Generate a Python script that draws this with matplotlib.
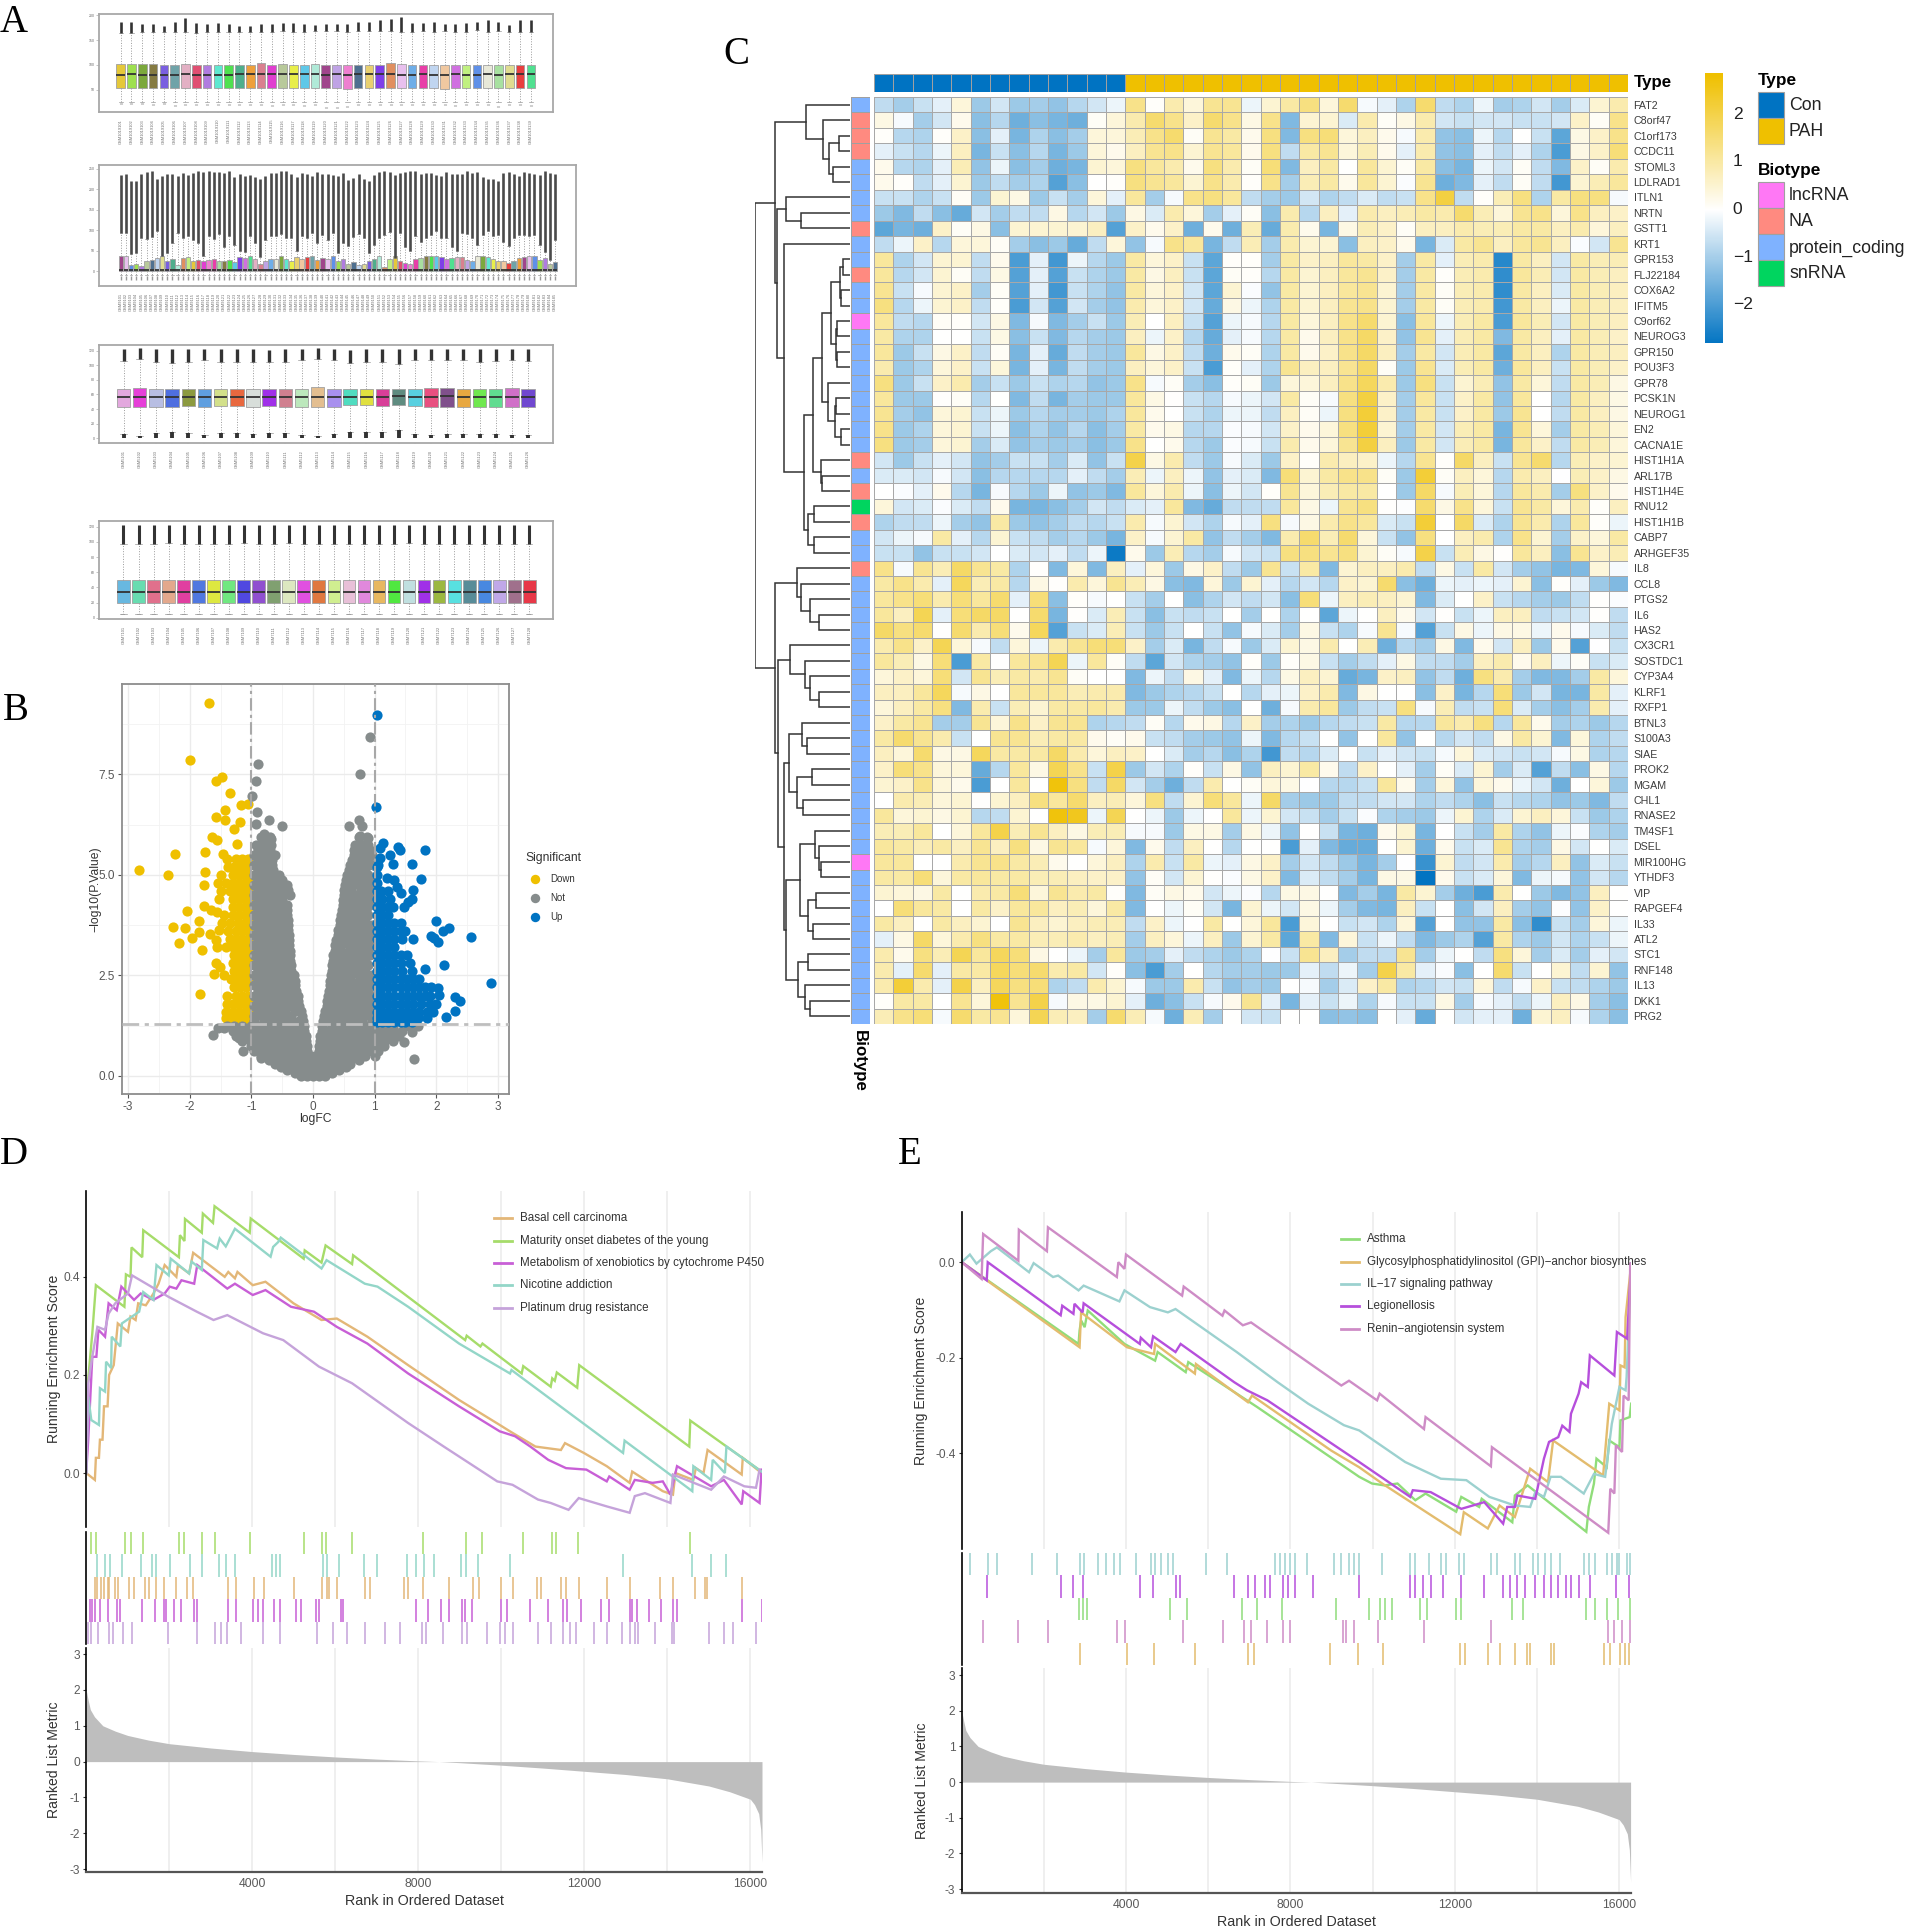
import numpy as np
import matplotlib
matplotlib.use('Agg')
import matplotlib.pyplot as plt
from matplotlib.colors import LinearSegmentedColormap, ListedColormap
from matplotlib.lines import Line2D
from matplotlib.patches import Rectangle

plt.rcParams['font.family'] = ['Liberation Sans', 'DejaVu Sans']
plt.rcParams['axes.unicode_minus'] = False

W, H = 1907, 1929

# ---- panel A, box plots
pool = ['#E5C83A', '#9EE04F', '#7BA83C', '#857B42', '#7A5FE0', '#6FA3A8', '#E3B0C4', '#E04F72', '#B07CE0', '#5FE8D0',
        '#4FE04F', '#4FAE8C', '#EEA03C', '#D9808F', '#E03FD0', '#B8C99A', '#E8EE4A', '#5FC8E8', '#B0EAD8', '#A0458C',
        '#BFA3E5', '#EE80D0', '#4F7090', '#E8D070', '#7F3FE8', '#E08F60', '#E8C0EE', '#6FAEE8', '#E83FA8', '#C0D5F0',
        '#F0C8A0', '#D070E0', '#C0F080', '#5F90E8', '#E8E8D8', '#A8E0A0', '#E0DC90', '#E83F3F', '#50E090']
a3_cols = ['#E3A8DE', '#E63FD8', '#B8BEE3', '#4F6FE0', '#8C9A3F', '#5F9FE0', '#D3E08A', '#E8683F', '#D8DEDA', '#A030E8',
           '#D0808F', '#BCE8BC', '#E3BE90', '#A890EE', '#50DCC0', '#E0E040', '#D83F98', '#5F8C80', '#58D0E0', '#E85080',
           '#80508C', '#E8A840', '#70E84F', '#60DC90', '#D070C8', '#7048D0']
a4_cols = ['#68B8E0', '#68DCB0', '#E0708C', '#E3A88C', '#E03FA0', '#5078E0', '#DDE840', '#70E880', '#5048E0', '#9050D0',
           '#80A070', '#DDE8C0', '#E050E0', '#E07840', '#D0EE90', '#E8C0D8', '#E088DC', '#E8B860', '#50E840', '#C0E0E0',
           '#A030E8', '#9CB840', '#58E0E0', '#588C98', '#4888E0', '#C0A8E8', '#A0708C', '#E83848']

a1_q1 = [54, 54, 54, 54, 54, 54, 53, 54, 54, 54, 54, 54, 54, 54, 53, 54, 54, 54, 54, 54, 54, 52, 53, 54, 54, 54, 54, 54, 54, 54, 52, 54, 54, 54, 54, 54, 54, 54, 54]
a1_med = [80, 81, 80, 80, 80, 80, 81, 80, 80, 79, 80, 81, 81, 82, 81, 82, 81, 81, 82, 80, 81, 80, 81, 82, 81, 82, 80, 80, 82, 80, 79, 81, 79, 80, 81, 79, 81, 81, 81]
a1_q3 = [101, 101, 101, 101, 100, 100, 101, 100, 100, 99, 100, 100, 100, 104, 100, 101, 100, 100, 101, 100, 100, 100, 100, 100, 100, 103, 101, 100, 100, 100, 100, 100, 99, 100, 100, 100, 100, 100, 100]
a1_whi = [165, 165, 167, 167, 166, 167, 167, 165, 167, 167, 167, 166, 167, 167, 167, 168, 167, 167, 168, 168, 168, 167, 168, 168, 168, 168, 167, 167, 168, 167, 168, 167, 167, 170, 167, 168, 167, 167, 167]
a1_top = [186, 186, 182, 182, 179, 186, 194, 184, 182, 184, 182, 179, 178, 182, 182, 184, 184, 182, 180, 182, 183, 182, 186, 186, 190, 193, 196, 184, 184, 186, 182, 183, 184, 186, 190, 186, 180, 190, 190]
a1_low = [21, 21, 21, 19, 21, 17, 19, 20, 19, 19, 19, 19.5, 19.5, 20, 18, 19.5, 19.5, 18, 19.5, 14, 13, 15, 19, 19, 19.5, 19, 20, 20, 20, 20, 19, 18, 19, 19.5, 19, 15, 19, 19, 17]

a2_q3 = [36, 36, 14, 18, 12, 26, 28, 32, 36, 26, 30, 14, 32, 34, 26, 28, 26, 28, 30, 24, 26, 28, 22, 34, 32, 36, 30, 18, 26, 30, 30, 38, 30, 26, 34, 30, 34, 38, 28, 32, 30, 36, 26, 30, 18, 22, 14, 18, 24, 30, 38, 10, 30, 36, 24, 20, 18, 30, 32, 38, 36, 36, 34, 30, 32, 34, 34, 28, 26, 36, 36, 34, 30, 24, 26, 20, 26, 32, 34, 36, 36, 28, 32, 18, 22]
a2_fbot = [94, 92, 42, 44, 80, 78, 84, 98, 36, 44, 70, 92, 80, 85, 75, 70, 36, 85, 78, 90, 60, 85, 65, 50, 48, 85, 70, 35, 75, 85, 85, 90, 80, 82, 50, 85, 80, 92, 70, 88, 75, 92, 45, 68, 62, 84, 90, 80, 44, 65, 80, 88, 95, 32, 92, 60, 50, 85, 72, 82, 88, 98, 82, 80, 60, 50, 92, 90, 82, 64, 88, 98, 85, 88, 72, 62, 80, 88, 88, 85, 88, 64, 48, 28, 75]
a2_ftop = [234, 237, 221, 219, 238, 242, 244, 224, 231, 236, 237, 231, 240, 234, 240, 245, 242, 245, 243, 243, 240, 245, 230, 238, 232, 235, 230, 225, 231, 240, 240, 245, 244, 236, 230, 240, 236, 233, 243, 238, 236, 235, 231, 240, 222, 228, 236, 226, 220, 234, 243, 244, 242, 235, 240, 242, 244, 245, 236, 240, 240, 235, 232, 241, 238, 236, 238, 244, 240, 241, 230, 224, 224, 219, 240, 243, 238, 232, 242, 240, 237, 235, 244, 240, 236]

a3_q1 = [43, 42.6, 43, 43, 44, 42.6, 44, 44, 43, 44, 43, 42.6, 42.6, 43, 45, 45, 44, 45, 44, 43, 43, 43, 43, 43, 42.6, 43]
a3_med = [57, 57, 57, 57, 57, 57, 57, 57, 57, 57, 57, 57, 57, 57, 57, 57, 57, 58, 57, 57, 58, 57, 57, 57, 57, 57]
a3_q3 = [68, 69.5, 68, 68, 68, 68, 68, 68, 68, 68, 68, 68, 70, 68, 68, 68, 68, 68, 68, 69.5, 69, 68, 68, 68, 69.5, 68]
a3_ftop = [122, 124, 122, 122, 123, 122, 122, 122, 122, 121, 123, 122, 124, 123, 121, 122, 122, 122, 122, 123, 123, 123, 123, 122, 122, 122]
a3_fbot = [106, 109, 105, 103, 105, 107, 105, 105, 105, 105, 104, 107, 109, 107, 103, 104, 104, 102, 107, 108, 107, 107, 105, 106, 108, 106]
a3_ltop = [5, 3.4, 6.7, 9, 6.7, 3.9, 6.7, 6.7, 5.6, 6.7, 6.7, 4.5, 3.4, 5, 9, 7.9, 7.9, 10.7, 5.6, 3.9, 5, 5, 5.6, 5.6, 3.9, 4.5]

# ---- panel B, volcano
not_rows = [
    (0.0, [-.2, -.1, 0, .1, .2]),
    (0.07, [-.3, -.2, -.1, 0, .1, .2, .3]),
    (0.15, [-.42, -.3, -.18, -.06, .06, .18, .3, .42]),
    (0.22, [-.52, -.4, -.28, -.16, -.04, .08, .2, .32, .44, .54]),
    (0.3, [-.62, -.5, -.38, -.26, -.14, -.02, .1, .22, .34, .46, .6]),
    (0.4, [-.72, -.6, -.48, -.36, -.24, -.12, -.03, .03, .12, .24, .36, .48, .6, .74]),
    (0.5, [-.85, -.72, -.6, -.48, -.36, -.24, -.12, -.04, .04, .12, .24, .36, .48, .6, .72, .85, 1.0]),
    (0.62, [-.95, -.82, -.7, -.58, -.46, -.34, -.22, -.1, .1, .22, .34, .46, .58, .7, .82, .95, 1.05]),
    (0.75, [-1, -.88, -.76, -.64, -.52, -.4, -.28, -.16, -.09, .09, .16, .28, .4, .52, .64, .76, .88, 1, 1.15]),
    (0.87, [-1.15, -1, -.88, -.76, -.64, -.52, -.4, -.28, -.16, -.11, .11, .16, .28, .4, .52, .64, .76, .88, 1, 1.15, 1.3]),
    (1.0, [-1.25, -1.1, -.96, -.84, -.72, -.6, -.48, -.36, -.24, -.12, .12, .24, .36, .48, .6, .72, .84, .96, 1.1, 1.25, 1.4]),
    (1.12, [-1.3, -1.18, -1.05, -.92, -.8, -.68, -.56, -.44, -.32, -.2, -.14, .14, .2, .32, .44, .56, .68, .8, .92, 1.05, 1.18, 1.32, 1.45]),
    (1.25, [-1.4, -1.28, -1.15, -1, -.9, -.78, -.66, -.54, -.42, -.3, -.15, .15, .3, .42, .54, .66, .78, .9, 1, 1.15, 1.3, 1.55, 1.7]),
    (1.37, [-.95, -.8, -.65, -.5, -.35, -.22, -.16, .16, .22, .35, .5, .65, .8, .95]),
    (1.5, [-.95, -.83, -.71, -.59, -.47, -.35, -.18, .18, .32, .44, .56, .68, .8, .93]),
    (1.62, [-.9, -.75, -.6, -.45, -.3, -.2, .2, .3, .45, .6, .75, .9]),
    (1.75, [-.95, -.83, -.71, -.59, -.47, -.35, -.22, .22, .35, .47, .59, .71, .83, .95]),
    (1.87, [-.9, -.75, -.6, -.45, -.32, -.24, .23, .32, .45, .6, .75, .9]),
    (2.0, [-.95, -.83, -.71, -.59, -.47, -.36, -.25, .24, .38, .5, .62, .74, .86, .95]),
    (2.12, [-.9, -.75, -.6, -.45, -.33, -.27, .26, .33, .45, .6, .75, .9]),
    (2.25, [-.95, -.83, -.71, -.59, -.47, -.36, -.29, .27, .36, .48, .6, .72, .84, .95]),
    (2.37, [-.9, -.75, -.6, -.45, -.33, -.3, .28, .35, .45, .6, .75, .9]),
    (2.5, [-.95, -.83, -.71, -.59, -.47, -.37, -.31, .29, .38, .5, .62, .74, .86, .95]),
    (2.62, [-.9, -.75, -.6, -.45, -.35, .3, .4, .55, .7, .85]),
    (2.75, [-.95, -.83, -.71, -.59, -.47, -.36, .31, .42, .54, .66, .78, .9]),
    (2.87, [-.9, -.75, -.6, -.45, -.37, .32, .42, .55, .7, .85]),
    (3.0, [-.95, -.83, -.71, -.59, -.47, -.38, .33, .44, .56, .68, .8, .92]),
    (3.12, [-.9, -.75, -.6, -.45, -.38, .35, .45, .6, .75, .9]),
    (3.25, [-.95, -.83, -.71, -.59, -.47, -.39, .36, .46, .58, .7, .82, .94]),
    (3.37, [-.9, -.75, -.6, -.45, -.39, .38, .48, .6, .75, .9]),
    (3.5, [-.95, -.83, -.71, -.59, -.47, -.39, .4, .5, .6, .72, .84, .95]),
    (3.62, [-.9, -.75, -.6, -.45, -.4, .41, .5, .65, .8, .92]),
    (3.75, [-.95, -.83, -.71, -.59, -.47, -.4, .43, .52, .62, .74, .86, .95]),
    (3.87, [-.9, -.75, -.6, -.46, -.41, .44, .55, .7, .85]),
    (4.0, [-.95, -.83, -.71, -.59, -.48, -.42, .46, .54, .66, .78, .9]),
    (4.12, [-.9, -.75, -.6, -.48, -.43, .47, .58, .72, .86]),
    (4.25, [-.95, -.83, -.71, -.59, -.5, -.43, .48, .56, .68, .8, .92]),
    (4.37, [-.9, -.75, -.6, -.5, .49, .6, .75, .9]),
    (4.5, [-.95, -.83, -.71, -.6, -.5, -.37, .5, .6, .72, .84, .95]),
    (4.62, [-.9, -.75, -.6, -.5, -.4, .51, .62, .78, .9]),
    (4.75, [-.95, -.83, -.71, -.6, -.5, -.42, .52, .62, .74, .86, .95]),
    (4.87, [-.9, -.75, -.62, -.5, .54, .65, .8, .92]),
    (5.0, [-.95, -.83, -.71, -.62, -.55, .55, .66, .78, .9]),
    (5.12, [-.9, -.75, -.65, .58, .7, .85]),
    (5.25, [-.95, -.83, -.72, -.66, .6, .68, .78, .9, .98]),
    (5.37, [-.9, -.78, -.66, .63, .75, .9]),
    (5.5, [-.95, -.85, -.75, -.62, .66, .76, .86, .95]),
    (5.62, [-.9, -.78, -.7, .67, .8, .92]),
    (5.75, [-.93, -.83, -.72, -.68, .68, .8, .9]),
    (5.95, [-.85, -.75, -.7, .75, .88]),
]
not_extra_x = [1.64, -1.13, -1.62, -.84, -.9, -.93, -.99, -.91, -.72, -.51, -.93, -.8, -.68, .92, .76, .74, .58, .8, .76, .89, -1.45, -1.2, -1.55, 1.48, 1.6]
not_extra_y = [.41, .62, 1.02, .44, 7.76, 7.33, 6.96, 6.56, 6.36, 6.21, 6.27, 6.03, 5.9, 8.44, 7.52, 6.37, 6.21, 6.21, 5.98, 5.93, 1.2, .95, 1.2, .85, 1.1]

down_rows = [
    (5.4, [-1.4, -1.25, -1.15, -1.05]),
    (5.2, [-1.38, -1.28, -1.18, -1.08]),
    (5.0, [-1.5, -1.3, -1.2, -1.1, -1.03]),
    (4.8, [-1.55, -1.42, -1.3, -1.2, -1.1, -1.03]),
    (4.6, [-1.5, -1.35, -1.25, -1.15, -1.05]),
    (4.4, [-1.52, -1.3, -1.2, -1.1, -1.03]),
    (4.2, [-1.3, -1.2, -1.1, -1.03]),
    (4.0, [-1.45, -1.3, -1.2, -1.1, -1.03]),
    (3.8, [-1.48, -1.35, -1.22, -1.1, -1.03]),
    (3.6, [-1.38, -1.25, -1.15, -1.05]),
    (3.4, [-1.35, -1.25, -1.15, -1.05]),
    (3.2, [-1.42, -1.3, -1.2, -1.1, -1.03]),
    (3.0, [-1.28, -1.18, -1.08]),
    (2.8, [-1.3, -1.2, -1.1, -1.03]),
    (2.6, [-1.28, -1.18, -1.08]),
    (2.4, [-1.33, -1.22, -1.12, -1.03]),
    (2.2, [-1.28, -1.18, -1.08]),
    (2.0, [-1.4, -1.25, -1.15, -1.05]),
    (1.8, [-1.4, -1.3, -1.2, -1.1, -1.03]),
    (1.6, [-1.42, -1.3, -1.2, -1.1, -1.03]),
    (1.45, [-1.42, -1.3, -1.2, -1.1, -1.03]),
    (1.33, [-1.3, -1.18, -1.08]),
]
down_extra_x = [-1.69, -1.99, -1.47, -1.58, -1.34, -1.17, -1.06, -1.43, -1.58, -1.43, -1.19, -1.29, -1.64, -1.56, -1.23, -2.24, -1.76, -2.83, -2.35, -1.76, -1.77, -1.77, -2.05, -1.65, -1.56, -2.28, -2.08, -1.85, -1.85, -1.97, -2.18, -1.8, -1.67, -1.52, -1.58, -1.56, -1.58, -1.51, -1.61, -1.45, -1.84, -1.46]
down_extra_y = [9.28, 7.85, 7.43, 7.33, 7.04, 6.74, 6.77, 6.61, 6.44, 6.36, 6.32, 6.15, 5.94, 5.86, 5.78, 5.53, 5.57, 5.13, 4.99, 5.07, 4.74, 4.23, 4.1, 4.12, 4.08, 3.71, 3.67, 3.85, 3.58, 3.42, 3.3, 3.13, 3.54, 3.63, 3.38, 3.21, 2.8, 2.72, 2.53, 2.51, 2.04, 5.53]

up_rows = [
    (4.6, [1.03, 1.1, 1.22]),
    (4.4, [1.03, 1.12, 1.25]),
    (4.2, [1.03, 1.12, 1.22, 1.3]),
    (4.0, [1.03, 1.12, 1.22]),
    (3.8, [1.03, 1.12, 1.22, 1.32, 1.42]),
    (3.6, [1.03, 1.12, 1.22, 1.32, 1.42, 1.5]),
    (3.4, [1.03, 1.12, 1.22, 1.32, 1.44, 1.62]),
    (3.2, [1.03, 1.12, 1.22, 1.32]),
    (3.0, [1.03, 1.12, 1.22, 1.32, 1.42, 1.52]),
    (2.8, [1.03, 1.12, 1.22, 1.32, 1.42, 1.58]),
    (2.6, [1.03, 1.12, 1.22, 1.32, 1.45, 1.6]),
    (2.4, [1.03, 1.12, 1.22, 1.32, 1.42, 1.52, 1.62, 1.72]),
    (2.2, [1.03, 1.12, 1.22, 1.32, 1.42, 1.52, 1.62, 1.72, 1.82, 1.92]),
    (2.0, [1.03, 1.12, 1.22, 1.32, 1.42, 1.52, 1.62, 1.72, 1.82, 1.9]),
    (1.8, [1.03, 1.12, 1.22, 1.32, 1.42, 1.52, 1.62, 1.75, 1.9, 2.0]),
    (1.6, [1.03, 1.12, 1.22, 1.32, 1.42, 1.52, 1.62, 1.72, 1.85, 1.95]),
    (1.45, [1.03, 1.12, 1.22, 1.32, 1.42, 1.52, 1.62, 1.7, 1.85]),
    (1.33, [1.03, 1.12, 1.22, 1.32, 1.42, 1.5, 1.6]),
]
up_extra_x = [1.04, 1.02, 1.81, 1.14, 1.38, 1.41, 1.09, 1.25, 1.09, 1.29, 1.61, 1.06, 1.2, 1.32, 1.76, 1.37, 1.43, 1.63, 1.61, 1.54, 1.48, 1.99, 2.2, 2.11, 1.92, 1.96, 2.03, 2.57, 2.12, 1.82, 2.89, 2.3, 2.38, 2.3, 2.15, 2.03, 2.04, 1.03, 1.03, 1.03]
up_extra_y = [8.98, 6.68, 5.61, 5.79, 5.7, 5.61, 5.68, 5.49, 5.41, 5.28, 5.26, 5.24, 4.93, 4.87, 4.9, 4.7, 4.54, 4.62, 4.39, 4.33, 4.21, 3.86, 3.67, 3.61, 3.49, 3.42, 3.34, 3.46, 2.77, 2.65, 2.3, 1.97, 1.87, 1.62, 1.47, 2.18, 2.01, 5.0, 4.8, 5.2]

# ---- panel C, heatmap
genes = ['FAT2', 'C8orf47', 'C1orf173', 'CCDC11', 'STOML3', 'LDLRAD1', 'ITLN1', 'NRTN', 'GSTT1', 'KRT1', 'GPR153', 'FLJ22184',
         'COX6A2', 'IFITM5', 'C9orf62', 'NEUROG3', 'GPR150', 'POU3F3', 'GPR78', 'PCSK1N', 'NEUROG1', 'EN2', 'CACNA1E',
         'HIST1H1A', 'ARL17B', 'HIST1H4E', 'RNU12', 'HIST1H1B', 'CABP7', 'ARHGEF35', 'IL8', 'CCL8', 'PTGS2', 'IL6', 'HAS2',
         'CX3CR1', 'SOSTDC1', 'CYP3A4', 'KLRF1', 'RXFP1', 'BTNL3', 'S100A3', 'SIAE', 'PROK2', 'MGAM', 'CHL1', 'RNASE2',
         'TM4SF1', 'DSEL', 'MIR100HG', 'YTHDF3', 'VIP', 'RAPGEF4', 'IL33', 'ATL2', 'STC1', 'RNF148', 'IL13', 'DKK1', 'PRG2']
sample_type = [0] * 13 + [1] * 26
# 0 lncRNA, 1 NA, 2 protein_coding, 3 snRNA
biotype = [2, 1, 1, 1, 2, 2, 2, 2, 1, 2, 2, 1, 2, 2, 0, 2, 2, 2, 2, 2, 2, 2, 2, 1, 2, 1, 3, 1, 2, 2,
           1, 2, 2, 2, 2, 2, 2, 2, 2, 2, 2, 2, 2, 2, 2, 2, 2, 2, 2, 0, 2, 2, 2, 2, 2, 2, 2, 2, 2, 2]

heat_left = [
    [-.7, -1, -.6, -.3, .4, -1.1, -.5, -1.1, -1, -1.2, -.8, -.5, -.2, 1.3, .05, .9, .4, 1.2, 1.2, -.2, .5, 1],
    [.3, -.1, -1, -.5, .2, -1.3, -.8, -1.6, -1.3, -1.5, -1.6, .1, .4, .9, 1.6, 1.3, .6, 1.6, 1.3, .3, 1.3, -1.4],
    [.05, -.8, -.9, .05, .6, -1.3, -.3, -1.5, -.9, -1.3, -1, .4, .4, .8, 1.3, 1.6, .1, 1.2, 1, .2, 1.4, -1.4],
    [-.3, -.6, -.8, -.2, .7, -1.5, -.6, -1.3, -.8, -1.5, -1.1, .4, .2, .7, 1.2, 1.3, .5, 1.2, 1.1, .2, 1.4, -.7],
    [.2, -.8, -.9, -.3, .8, -1.2, -.2, -1.3, -1, -1.6, -1.5, .5, .4, 1.4, 1.1, .9, .2, 1.4, .9, .1, 1.5, -1.4],
    [.2, .05, -.7, -.3, .5, -1.1, -.7, -1, -.9, -1.9, -1.3, .02, .05, 1.4, 1.2, 1.1, .5, 1.3, .9, .05, 1.3, -1],
    [-.6, -.6, -.9, -.6, .1, -1.1, .5, .3, -1.1, -.6, -1, .4, -.3, 1.1, -1, -.1, 1.3, 1.4, 1.1, -.7, -1, -1.1],
    [-1.1, -1.4, -.7, -1.3, -1.7, -.5, -1, -.7, -.7, .3, -.8, -.5, -1.1, .3, -.4, .9, .4, -1, -.3, .1, -1.3, .9],
    [-1.8, -1.5, -1.6, .6, .1, .3, -1.3, .5, .5, .5, .5, .7, -1.9, .6, .2, .6, -1.6, .2, -1.6, .8, -1.7, .9],
    [-.7, -.2, .6, -.8, .4, .4, .1, -1, -1.3, -1.1, -1.7, -.7, .4, -1.2, -.1, 1.3, 1.1, -1.5, -.7, .8, -1, .9],
    [1.1, -.9, -.5, .5, .5, -.7, .2, -2, -.3, -2.1, -.2, -.8, -1.1, 1, .4, .6, -.6, -1.8, .05, .05, -1, 1],
    [1.1, -.8, -.5, .5, .1, -.7, .3, -1.9, -.3, -1.9, -.6, -.9, -1.1, 1, .3, .7, -.6, -1.8, .1, .05, -.8, 1],
    [1.2, -.6, -.1, .5, .6, -1, .1, -1.9, -.3, -2.1, -.6, -.9, -1.2, 1, .4, .6, -.5, -1.8, .5, -.05, -1.2, 1],
    [1.4, -.8, -.2, .5, .6, -.7, .05, -2, -.5, -1.9, -.5, -1, -1.2, .9, .4, .6, -.5, -1.7, .3, -.2, -.9, 1],
    [1.1, -.7, -.8, .1, .05, -.5, .3, -1.4, -.1, -1.4, -1, -.6, -1.1, .8, 0, .7, -.6, -1.9, -.2, -.1, -.8, 1],
    [1, -.9, -.9, .02, .02, -.6, .3, -1.3, -.6, -1.4, -.8, -1, -1.1, .7, -.2, .6, -.8, -1.7, -.3, -.1, -.8, 1],
    [1.1, -1.1, -.6, .3, .6, -.7, .1, -1.5, -.3, -1.7, -.7, -1, -1.1, 1.1, .3, .6, -.7, -1.6, .2, .1, -.9, 1],
    [.9, -1.1, -.9, .4, .6, -.6, .4, -1.5, -.3, -1.5, -.7, -1, -1.1, .7, .4, .6, -.6, -2, .05, -.3, -.9, 1.2],
    [1.4, -1.1, -.6, .6, .9, -1, -.6, -1.1, -.6, -.9, -.8, -1.2, -1.1, 1.3, -.1, .1, -1, -1.3, .05, .1, -1.1, .4],
    [1.1, -1.1, -1.1, .03, .1, -.8, .02, -1.4, -.7, -1.5, -1, -1.1, -1.1, 1.1, .3, .03, -.6, -.8, -.1, -.2, -.5, 1],
    [1.2, -1, -1.2, .4, .5, -.6, -.2, -1.1, -.8, -1, -1, -1.1, -.9, 1.1, .2, .02, -.6, -.9, -.2, -.2, -.7, .7],
    [1.3, -1.1, -.9, .4, .5, -.6, -.2, -1.3, -.9, -1.2, -.8, -1.3, -1, 1, .2, .3, -.8, -.8, -.05, -.1, -.5, .6],
    [1.4, -1.1, -1, .4, .5, -1, -.4, -1.2, -1, -1.1, -1, -1.3, -1.1, 1.3, .02, .2, -.8, -1.1, -.05, -.1, -.6, .9],
    [-.5, -1.1, -.6, -.3, -.5, -1.2, -1, -.6, -.6, -1, -.4, -1.2, -.6, 2, .3, .9, -.7, -1.1, -.1, -.4, -1.1, .6],
    [-.4, -.4, -.5, -.1, -.5, -1.3, -.8, -.8, -.8, -.8, -.3, -.7, -1, .8, -.2, .7, -.2, -1.2, -.3, -.4, -1.4, 1.5],
    [.02, -.05, -.3, .2, -.8, -1.5, -.1, -.8, -1.1, -.2, -1.2, -1.1, -1.4, 1.1, .4, .9, -.2, -1.3, -.2, -.5, .05, 1.2],
    [.4, -.5, -.4, -.05, -.4, -.7, .2, -1.5, -1.5, -1.3, -1, -.5, -.7, -.4, -.3, 1.1, -1.4, -1.7, -.7, -.7, -.7, 1.1],
    [-.9, -.7, -.7, -.2, -1, -1.2, 1, -1.1, -1.2, -1, -.7, -.8, -.6, .9, -.1, .5, -.5, -.9, -.1, -.3, 1.4, -.1],
    [-.5, -.2, -.1, 1, -.3, -.8, .5, -.6, -.7, -1, -.8, -1.1, -1.5, .6, -.1, .5, 1, -1.2, -.7, -1, -1.4, .9],
    [-.6, -.6, -1.2, -.6, -.6, -.5, .02, -.4, -.5, -.3, -.7, -.2, -2.7, .2, -1.1, .8, -.8, -1, -.1, -.5, -.6, 1.4],
    [1.3, -.1, 1.2, .8, 1.7, 1.2, 1, -.9, .03, -1.4, .4, -1.4, .7, -.3, .4, -1.1, .3, .6, -.7, -1.1, 1.2, -.6],
    [1, 1.3, .9, -.3, 1.8, .8, 1, -.8, .3, .03, .9, .4, 1.2, .8, .3, -1.3, -1.4, .4, -1.1, .5, -.3, -.8],
    [1.1, 1.3, 1.5, .9, 1.5, 1.1, 1.6, -.3, 1.5, -1.3, .05, -.1, .02, -.6, -1, .02, -1.3, -.9, -.5, -.7, -.5, -1.3],
    [1.1, .7, 1.9, -.3, 1.5, 1.7, 1.7, .02, 1.6, -1.5, .03, -.4, .8, -.6, -1.3, -.6, -.7, -.6, .02, -1, .02, -.9],
    [1.7, 1.4, 1.6, .03, 1.6, .9, 1.5, .2, 1.8, -1.9, -.6, -.4, .8, -.6, -1.1, -.6, .02, -.6, -1.2, -.1, -.4, -1],
    [.9, 1.3, .6, 1.9, .4, -.1, -.7, .4, -.2, .9, 1.2, 1.5, 1.5, .6, -1, -.4, -1.5, -.7, -.1, -1.1, -.4, .5],
    [1.1, .8, .3, 1.5, -2, 1, .02, 1.1, 1.2, 1.9, -.2, 1.1, .1, -.7, -1.8, -.5, -.9, -1, -1.2, .05, -1.1, .05],
    [.4, .6, .4, 1.5, -.5, 1.2, .8, 1, .9, 1.2, .1, .02, .02, -1.4, -.2, -.7, .3, -.3, -1.4, -.2, -.8, .3],
    [.7, .7, 1.1, 1.8, -.1, .3, .01, 1.1, 1.1, 1.1, .8, .9, .9, -1.4, -1.1, -.9, -.8, -.6, .01, -.8, -.3, -.2],
    [.4, .7, 1, 1.4, -1.4, .9, -.6, .8, .5, 1, 1, 1.1, .9, -1.1, -1.1, -.2, -.7, -1.1, -1.3, .02, -1.6, -.1],
    [.6, 1, 1.2, -1, -1, 1.2, .4, 1.3, .6, 1.2, 1.2, -.9, -.8, -.7, .1, -.8, .2, .3, -.8, .6, -1, -.9],
    [1, 1.6, 1.2, .9, -.6, .02, 1.2, 1.2, .8, 1, 1, .2, .1, .2, -.6, -.7, -1, -1.1, -1.2, -.2, -1.4, -.8],
    [.7, .4, 1.6, .3, .3, 1.8, 1, 1, 1, 1.7, .9, .4, .7, .6, .01, -.4, -1, -.8, -1.3, -.9, -2.1, -.7],
    [.6, 1.5, 1.3, .4, .4, -1.7, -.8, 1.1, .3, 1.9, 1.3, -.6, 2, -1.1, -.5, -.9, .05, -.6, .3, -1.2, .7, .5],
    [.5, .6, 1.3, .4, .2, -2, .01, 1.1, .01, 2.7, 1.4, -.7, 1.7, -.5, -1, -1.6, -.7, .9, .01, .1, .4, .3],
    [.01, .9, .8, .4, .5, .03, .5, .7, 1.4, 1.1, 1.6, .7, .8, .4, 1.4, -.7, .5, 1.5, 1.1, -.2, 1.7, -1],
    [1.1, .4, .5, .3, .5, -.8, -.7, .5, .01, 2.7, 2.5, -.2, 1.9, .01, -.2, -1.1, -.2, .01, 1.1, -.2, .5, -.5],
    [.8, .8, 1.1, .02, .4, 1.1, 2, .8, 1.2, .7, .3, .8, .8, -.1, -.1, -1.1, .3, .3, -1, .3, -.2, -1.2],
    [1.1, 1, .8, 1, .7, 1.2, .7, 1.4, .3, 1.2, 1.1, -.1, .4, -1.4, .2, -.7, .7, .02, -.8, .01, .01, -2],
    [1.1, 1.1, .01, .01, .9, 1.2, 1.3, 1, .8, .2, .02, .4, .7, -.9, .9, -.6, 1, -.2, -.3, .3, .6, -1],
    [1, 1, 1.5, .4, 1, 1.1, 1, 1, .8, .8, .7, .6, .6, -1.2, .1, -.5, .5, .03, -.05, .3, .6, -1.4],
    [.5, .4, .3, 1, .02, .9, 1, 1.5, .4, 1.2, .9, 1, .05, -1.4, .1, .3, .2, -.5, -.2, -.05, -.8, .3],
    [.01, 1.5, 1.1, 1, .02, 1, .6, 1.1, 1.1, .7, .8, .4, 1, -1.4, .01, -.2, .1, -.5, -1.5, .5, -.2, -.5],
    [1, .7, .02, 1, .7, .5, .02, 1.2, .7, .5, .7, .8, .8, -.7, .6, -.2, .02, 1, .02, .4, 1.1, -2],
    [-.3, .3, 1.7, .4, .9, 1.4, 1, 1, .8, .8, .9, .7, .8, -1, .7, .4, -.2, .7, -1.1, .5, 1, -1.8],
    [.9, .2, 1.4, .8, 1.9, 1.1, 1.8, 1.5, .3, .02, -.2, -1, 1.1, -1.1, -1, -.3, -.7, -.9, -1.1, -.9, -.02, -.6],
    [.9, -.3, 1.6, -.3, 1, 1, 1.8, 1.5, 1.6, .9, 1, -.5, .05, -1.3, -2, -1, .02, -.8, -1, -1, -1.1, -1.1],
    [.9, 2.2, .9, -.3, 2, .7, 1.8, 1.4, 1.5, -.9, -.7, .9, .5, -.1, -1.1, -1.1, .9, -.6, -1.2, -1, -1.1, .01],
    [.05, 1, 1, .02, 1.2, .4, 2.7, 1.2, 2, -.1, .3, .3, .5, -.3, -1.6, -1.3, -.6, -.1, .2, 1.2, -.3, -1.5],
    [.8, 1.3, 1.5, -.1, 1.6, 1, 1.2, .4, 1.9, .8, .7, -1, 1.6, .8, -.1, -1.6, .8, -1, .02, -.5, -.6, .02],
]
heat_right = [
    [1.4, .4, 1.6, -.1, -.3, -.9, 1.6, -.7, -.9, -.2, -1, -.9, -.5, -1, -.4, .5, .9],
    [.5, .5, -.4, .9, .1, .3, .9, -.5, -.6, -.5, -.5, -.6, -.6, -.5, .6, .1, 1.3],
    [1.4, 1.5, .4, .7, .2, -.1, .9, -1.2, -1.3, -.2, -.8, 0, -.6, -1.8, .3, .6, 1.3],
    [1, 1.2, .4, .8, .2, -.3, .9, -1.2, -1.3, -.3, -.7, -.3, -.9, -2, .3, .6, 1.5],
    [.7, 1, 0, 1.1, .5, .1, 1, -1.3, -1.5, -.2, -.5, .1, -.7, -1.4, .6, .1, .9],
    [.8, 1, .2, 1.1, .5, -.05, 1.2, -1.6, -1.4, -.3, -.7, .1, -.7, -2.1, .5, .8, 1.1],
    [-.5, -.9, -.7, -.4, -.7, -.6, 1.3, 2.1, -.7, .05, .8, 1.4, -.9, 1, 1.4, 1.4, -.1],
    [-.8, .7, -.3, .9, .7, .8, 1, .9, 1.6, .8, .4, 1.2, 1.3, .4, 1.3, .7, .6],
    [.2, -1.5, .3, .8, .6, .1, .7, .7, .9, .8, .8, 1, 1, .7, .9, .4, .7],
    [.5, .5, -1.3, .7, .6, .2, -1.5, -.4, 1, 1.2, .7, 1.1, 1.2, .7, -.05, -.5, 1.2],
    [.6, .7, 1.1, 1, .6, -1, 1, -.3, .8, .9, -2.4, 1, .7, -.5, 1, .8, .8],
    [.5, .7, 1.1, 1.2, .6, -1, 1, .05, .8, .9, -2.3, 1.1, .8, -.5, 1, .8, .7],
    [.5, .7, 1.1, 1.2, .5, -1, 1, .1, .8, .9, -2.3, 1, .7, -.4, 1, .8, .7],
    [.5, .7, 1.2, 1.3, .5, -1, 1, .1, .8, .9, -2.1, 1, .7, -.2, 1, .8, .7],
    [.4, .7, 1.3, 1.6, .5, -1.3, 1.1, -.2, .8, 1, -2, 1.1, .8, -.5, 1, .8, .7],
    [.2, .7, 1.3, 1.7, .6, -1.2, 1.2, -.3, .8, 1, -1.4, 1, .7, -.3, 1, .8, .6],
    [.2, .6, 1.3, 1.7, .7, -1, 1, -.5, .8, 1, -1.8, 1, .7, -.9, 1, .8, .7],
    [.7, .7, 1.2, 1.7, .1, -1.1, 1.2, -.4, .8, 1, -1.6, 1.1, .7, -.6, 1, .8, .6],
    [.4, .7, 1.3, 1.8, .9, -1.1, 1.4, -.6, .5, .8, -1.2, 1, .4, -.7, 1, .8, .3],
    [.1, -.1, 1.4, 2.1, .6, -1, 1.1, -.6, .6, 1, -1.2, 1.1, .02, -.8, 1, .7, .3],
    [.1, -.2, 1.4, 2.2, .6, -1, 1, -.6, .6, 1, -1.1, 1.2, .02, -.7, 1, .7, .3],
    [.2, .4, 1.4, 2.2, .5, -1, 1, -.5, .8, 1, -1.5, 1.2, .4, -1, 1, .8, .4],
    [.2, .4, 1.2, 2.1, .7, -1.1, 1, -.5, .8, 1, -1.5, 1.1, .6, -.7, 1, .8, .4],
    [.05, .9, .7, .6, -.2, -.8, 1.2, .05, 1.7, .7, -.6, 1.2, 1.6, -.8, .8, .6, .5],
    [.5, 1, 1.3, 1.3, .1, -1.1, 2.2, .1, .7, .4, -.8, .9, .7, -.02, .8, .6, .3],
    [.4, .8, 1, 1, .02, -1.1, 1.7, -.1, .8, .4, -.8, 1.1, .9, -1, 1.4, .6, .2],
    [.3, -.2, 1.2, 1.4, .03, -.04, 1.6, .3, 1.3, .4, -.6, 1.2, 1, .4, .9, .05, .7],
    [.3, .9, 1.3, 1.1, -.4, -.6, 2.2, .02, 1.7, -.4, -.9, 1.2, .9, -.9, 1.1, .05, -.2],
    [1.6, .8, 1.6, .4, -.6, -1.2, 1.4, .02, .7, .9, -.9, 1.3, .5, -1, .6, .4, 1],
    [1.4, 1.2, 1.4, .5, .1, -.1, 2, -.6, .8, .3, .03, 1.1, .7, -1.3, 1.2, .6, .8],
    [1, -1.4, .5, .7, .7, .9, -.7, .3, -.6, 1, -.5, -1, -1.2, -1.5, -1.4, .4, -.1],
    [-.5, -.8, .6, .5, 1.6, -1.3, -1.6, -.2, -.3, -.2, -.3, .5, -1.3, .05, -.3, -1.1, -1.4],
    [1.5, -.2, .7, .8, .7, .5, -1.4, -.4, .02, .6, -.6, -.8, -1, -1.1, -.7, .03, -.05],
    [.02, -1.8, -.2, .02, .7, .2, -.5, .03, -.6, -.2, .7, .7, -.7, -.6, -.5, .03, -.7],
    [.3, -.6, -.9, -.1, 1.2, -.1, -1.9, -.6, .3, -.2, .3, .3, -.2, .2, -.1, -.4, -.7],
    [.3, .9, .02, .8, -1.6, -.8, -1, .3, -1.4, .2, -.5, .7, -1.1, .2, -1.9, -.02, -.6],
    [.3, -.6, -1, -.7, -.3, .3, -.7, -.7, -1, .7, .9, .2, .7, -.2, .1, -.6, -.4],
    [.7, .5, -1.7, -1.5, .6, .7, -1.2, -.7, -1.6, 1.4, .9, -1, -1.4, -1.4, -1, 1, .4],
    [.6, .9, -1.4, .3, .02, .02, -1.3, .6, -1.5, -.8, 1.5, -1.1, -.5, -1.5, -1.5, 1, -.3],
    [.9, 1.1, -1.1, -.7, -.6, 1.4, -.1, .8, -.7, -.6, 1.5, -.4, -1, -1.3, -1, .9, -.3],
    [-1.1, -.8, -.7, -.6, 1, -.8, -.8, 1.1, .9, 1.4, -.8, 1.1, .2, -1, -.9, -1.1, -.8],
    [-.6, .02, -1.2, .01, 1.1, -1.2, .02, -.8, -.5, -.7, .3, 1, .5, -1.4, .4, -.9, -.7],
    [-.8, -.4, .02, -.6, -.3, -.5, -.6, -.1, .4, -.4, -.5, -.6, -.5, -.1, .3, -.9, -.8],
    [1, .2, -.7, .6, .02, -.3, -1, .1, -.4, .5, -1, -.4, -1.9, -.7, -1.3, .3, -.8],
    [-.02, -.8, -.8, -.6, 1.1, .2, -1, .4, -1.2, .4, .2, -.2, -.5, -1.6, .02, .4, -1.1],
    [-1.1, -1.1, -.7, -.7, -.5, -.5, -.9, -.7, -.9, -1.3, -.6, -.8, -.9, -1.2, -1.1, -1.4, -.7],
    [-.6, -1, -.6, -.05, -.9, -1, -1.1, -.2, .5, -.9, -.4, .5, .7, .4, -.6, -1.1, -.9],
    [.01, -.6, -1.5, -1.6, .2, .5, -1.5, .01, -.6, -1, 1, -.9, -1.2, -.2, -.05, -.9, -1],
    [-.3, -1.4, -1.7, -1.7, .02, .5, -1.6, .2, -.6, -.4, 1.2, -.9, -1, .3, -.5, .02, -.4],
    [-.5, -.7, -1.1, -1.5, -1, -.02, -2.2, .5, -.7, -.5, .9, -1, -.8, .7, -1.2, -.4, -.6],
    [-.4, -.7, -1, -1.5, .3, .3, -2.8, .2, -.6, -.4, .4, -1.4, -.2, -.1, -1.2, -.5, -.8],
    [.3, .02, -1.4, -1, -1.5, 1, .5, -1, -1.6, -2, .9, .02, -1.1, -1.4, -1.2, .7, .02],
    [.3, -.2, -1, -1.4, -1.5, .7, -.6, .02, -1.3, -.5, .7, -1, -1.2, -.03, -1.2, .6, .02],
    [.4, .02, -.6, -.5, -.9, .4, -1.9, .02, -1.2, -1.2, 1, -1.3, -2.3, -.6, -1, .4, -.2],
    [1, -1.4, .4, -.6, -.2, -.7, -1.4, -1.1, -.9, -1.9, 1, -.9, -1.1, -.5, -.9, -.6, -.2],
    [1.2, .7, -1, -.7, -.7, 1.2, -1, -.2, .01, -.7, 1.4, .4, -1, -.4, -1, -.3, -.5],
    [-.3, -.7, -.2, -1, 2, 1, -.3, -.05, -1.3, .01, 1.6, -.6, .02, .5, -.7, .5, -1.2],
    [-.1, -1, -.4, .6, 1, -.9, -.8, -.5, -.6, .4, -.7, -.1, .6, -.6, -.7, -.9, -1.1],
    [-.3, -.6, -.2, -.9, -.1, -.6, -.6, .3, -1, -.1, -.3, -.7, -.2, .7, .3, -1, -1.3],
    [.01, -1.3, -1.2, -1.3, .01, -.3, -1.7, .02, -.5, -.3, -.3, -1.6, .5, .7, -.1, -.9, -1.3],
]

# dendrogram, nodes are (height, left, right), leaves are row numbers
t_top = (.46, 0, (.28, 1, (.22, (.12, 2, 3), (.18, 4, 5))))
t_789 = (.67, 6, (.52, 7, 8))
t_1118 = (.20, (.11, (.07, 10, 11), (.10, 12, 13)), (.15, (.14, 14, 15), (.14, 16, 17)))
t_1923 = (.23, 18, (.16, (.15, 19, 20), (.09, 21, 22)))
t_2426 = (.31, 23, (.30, 24, 25))
t_2730 = (.44, (.38, 26, 27), (.38, 28, 29))
t_1130 = (.48, (.385, (.29, t_1118, t_1923), t_2426), t_2730)
t_upper = (.79, t_top, (.77, t_789, (.70, 9, t_1130)))
t_31 = (.56, 30, (.52, 31, (.42, 32, (.33, 33, 34))))
t_36 = (.63, 35, (.47, 36, (.42, 37, (.33, 38, 39))))
t_41 = (.64, (.51, 40, (.45, 41, 42)), (.56, (.40, 43, 44), (.49, 45, 46)))
t_48 = (.53, (.37, 47, (.33, 48, (.31, 49, 50))), (.44, (.36, 51, 52), (.39, 53, 54)))
t_56 = (.55, (.44, 55, 56), (.47, 57, (.42, 58, 59)))
t_lower = (.79, t_31, (.76, t_36, (.70, t_41, (.67, t_48, t_56))))
tree = (1.0, t_upper, t_lower)

# ---- panel D, running scores
d_names = ['Basal cell carcinoma', 'Maturity onset diabetes of the young', 'Metabolism of xenobiotics by cytochrome P450',
           'Nicotine addiction', 'Platinum drug resistance']
d_cols = ['#E3B778', '#A6DC6A', '#C85FD6', '#93D6C8', '#C5A3DA']
d_basal_r = [0, 209, 233, 307, 331, 393, 429, 515, 552, 663, 761, 1006, 1067, 1190, 1252, 1436, 1620, 1742, 1890, 2172, 2209, 2479, 2577, 3337, 3423, 3583, 3644, 4012, 4319, 4994, 5669, 6037, 6773, 7755, 8982, 9963, 10209, 10822, 11436, 11534, 11988, 12540, 13092, 13153, 13890, 14135, 14196, 14626, 14687, 14871, 14969, 15791, 15816, 16270]
d_basal_s = [0, -.014, .031, .031, .068, .068, .136, .136, .2, .22, .305, .288, .319, .312, .346, .342, .366, .386, .424, .4, .424, .407, .449, .4, .41, .397, .41, .383, .39, .346, .312, .315, .278, .22, .149, .098, .085, .054, .047, .061, .041, .014, -.02, .003, -.037, -.044, 0, -.014, .01, 0, .047, -.003, .031, 0]
d_mat_r = [0, 25, 147, 233, 920, 957, 1067, 1092, 1350, 1374, 2233, 2258, 2368, 2380, 2785, 2810, 3055, 3092, 3939, 3963, 5239, 5264, 5669, 5767, 6405, 6430, 9129, 9166, 9497, 9546, 10491, 10528, 11190, 11227, 11288, 11337, 11828, 11877, 14528, 14552, 16270]
d_mat_s = [0, .17, .285, .383, .339, .405, .40, .46, .44, .495, .44, .485, .473, .518, .49, .529, .51, .544, .49, .519, .437, .454, .429, .464, .426, .444, .271, .28, .258, .264, .203, .218, .176, .193, .188, .205, .174, .22, .054, .107, .003]
d_met_r = [0, 49, 147, 245, 294, 454, 540, 736, 847, 1153, 1313, 1620, 1890, 2012, 2172, 2295, 2601, 2675, 3399, 3583, 4012, 4319, 4933, 5485, 6037, 6773, 7755, 8982, 9963, 10331, 10699, 11129, 11558, 12049, 12540, 12601, 13092, 13215, 13644, 13890, 14074, 14233, 15055, 15362, 15791, 15828, 16221, 16270]
d_met_s = [0, .068, .237, .237, .292, .278, .346, .332, .38, .353, .366, .353, .366, .38, .376, .393, .386, .424, .376, .386, .363, .373, .339, .329, .298, .264, .203, .136, .085, .075, .054, .027, .01, .007, -.017, -.007, -.034, -.014, -.02, -.017, -.044, .014, -.027, -.014, -.064, -.037, -.061, .007]
d_nic_r = [0, 49, 123, 307, 331, 454, 479, 601, 614, 822, 859, 1276, 1374, 1620, 1693, 1988, 2037, 2479, 2540, 2785, 2822, 3153, 3215, 3362, 3583, 4442, 4503, 4626, 4687, 5669, 5791, 6712, 7018, 7755, 8982, 10209, 10245, 12933, 12970, 14601, 14626, 15055, 15092, 15386, 15423, 16270]
d_nic_s = [0, .156, .108, .098, .173, .166, .227, .214, .278, .258, .305, .329, .369, .353, .424, .403, .437, .407, .431, .414, .475, .458, .478, .462, .498, .441, .461, .471, .48, .417, .434, .386, .38, .339, .264, .203, .21, .041, .066, -.037, .014, -.014, .027, 0, .054, .003]
d_pla_r = [0, 49, 147, 270, 454, 540, 699, 1006, 1104, 1988, 2663, 3067, 3399, 4258, 4748, 5607, 6405, 7755, 8614, 9595, 9902, 10270, 10883, 11190, 11620, 11865, 12540, 13092, 13215, 13460, 14074, 14135, 15055, 15362, 15853, 16135, 16221]
d_pla_s = [0, .183, .237, .298, .292, .325, .346, .366, .403, .359, .329, .312, .322, .285, .271, .217, .183, .102, .054, 0, -.017, -.024, -.054, -.061, -.075, -.051, -.068, -.081, -.047, -.041, -.061, -.003, -.034, -.007, -.027, -.03, .007]

rug_d_mat = [123, 245, 945, 1080, 1374, 2233, 2356, 2798, 3092, 3939, 5252, 5669, 5767, 6405, 8123, 9141, 9534, 10515, 11215, 11325, 11853, 14552]
rug_d_nic = [270, 454, 577, 859, 1313, 1583, 1681, 2024, 2503, 2785, 3190, 3362, 3583, 4466, 4564, 4663, 5693, 5791, 6098, 6687, 6994, 7730, 7939, 8147, 8368, 9018, 9141, 9448, 10209, 12933, 14601, 15055, 15411]
rug_d_bas = [209, 270, 356, 429, 515, 552, 699, 761, 1031, 1153, 1411, 1521, 1681, 1865, 2172, 2417, 2564, 3411, 3620, 4037, 4294, 4994, 5669, 5791, 5853, 6037, 6712, 6834, 7657, 7755, 8123, 8736, 9325, 9472, 9988, 10270, 10859, 10945, 11436, 11558, 11865, 12540, 13092, 13828, 14135, 14662, 14908, 14957, 15791]
rug_d_met = [86, 147, 209, 331, 515, 736, 822, 1337, 1656, 1865, 1926, 2110, 2295, 2601, 2663, 3423, 3607, 4012, 4135, 4258, 4528, 4663, 5055, 5178, 5546, 5607, 6135, 6184, 7939, 8245, 8552, 8736, 9043, 9129, 9288, 9988, 10147, 10699, 11129, 11497, 11583, 11926, 12393, 12601, 13092, 13153, 13276, 13558, 13853, 14135, 14233, 15791, 16270]
rug_d_pla = [49, 123, 294, 540, 638, 883, 1104, 1963, 2663, 3092, 3239, 3399, 3730, 4258, 4663, 5571, 5939, 6282, 6712, 7203, 7571, 8098, 8184, 8589, 9043, 9166, 9657, 9963, 10086, 10270, 10883, 11190, 11497, 11656, 11804, 12233, 12540, 12908, 13092, 13215, 13301, 13706, 14110, 14160, 14994, 15362, 15571, 16135]

# ---- panel E, running scores
e_names = ['Asthma', 'Glycosylphosphatidylinositol (GPI)\u2212anchor biosynthes', 'IL\u221217 signaling pathway', 'Legionellosis',
           'Renin\u2212angiotensin system']
e_cols = ['#90DD7A', '#E3BC6E', '#9CD1CF', '#B64FDC', '#CE8CC6']
e_ast_r = [0, 2844, 2869, 2906, 2993, 3068, 3962, 4707, 4769, 5452, 5515, 6694, 7191, 9675, 9986, 10296, 10607, 11041, 11290, 12035, 12159, 12594, 12656, 13401, 13463, 13774, 15202, 15264, 15388, 15450, 15699, 15761, 16009, 16034, 16258, 16295]
e_ast_s = [0, -.171, -.143, -.122, -.136, -.101, -.171, -.206, -.188, -.23, -.209, -.275, -.303, -.449, -.463, -.467, -.463, -.498, -.484, -.522, -.491, -.512, -.495, -.544, -.488, -.467, -.564, -.512, -.463, -.411, -.429, -.373, -.387, -.331, -.324, -.296]
e_gpi_r = [0, 2869, 2906, 4024, 4682, 4707, 5676, 5701, 6968, 7067, 8992, 9675, 10234, 12134, 12221, 12805, 13091, 13463, 13836, 14270, 14395, 15612, 15761, 16009, 16034, 16134, 16158, 16295]
e_gpi_s = [0, -.178, -.105, -.178, -.192, -.171, -.233, -.213, -.293, -.279, -.394, -.429, -.463, -.569, -.523, -.557, -.509, -.533, -.432, -.46, -.373, -.446, -.296, -.31, -.216, -.22, -.115, -.003]
e_il_r = [0, 199, 360, 708, 857, 1639, 1751, 2223, 2347, 2844, 2968, 3838, 3962, 4583, 5018, 5204, 5949, 6694, 7688, 8433, 9303, 9675, 10793, 11662, 12283, 12842, 13463, 13836, 13960, 14171, 14333, 14581, 15140, 15388, 15661, 15823, 16009, 16158, 16183, 16295]
e_il_s = [0, .016, -.003, .023, .031, -.021, -.002, -.031, -.028, -.059, -.049, -.082, -.059, -.094, -.105, -.098, -.143, -.188, -.251, -.296, -.341, -.352, -.418, -.453, -.456, -.491, -.509, -.512, -.481, -.491, -.449, -.449, -.484, -.443, -.449, -.338, -.261, -.268, -.24, -.003]
e_leg_r = [0, 609, 634, 2409, 2447, 2720, 2745, 2943, 2968, 4335, 4359, 4608, 4658, 5204, 5328, 6632, 6943, 7440, 9675, 10917, 10979, 11414, 12159, 12718, 13178, 13277, 13463, 13525, 13960, 14171, 14295, 14519, 14618, 14792, 14829, 15015, 15077, 15239, 15289, 15885, 15947, 16196, 16233, 16295]
e_leg_s = [0, -.038, 0, -.111, -.091, -.108, -.087, -.105, -.086, -.171, -.158, -.178, -.155, -.188, -.171, -.251, -.268, -.289, -.418, -.491, -.477, -.481, -.516, -.502, -.547, -.512, -.512, -.488, -.495, -.411, -.376, -.366, -.342, -.355, -.317, -.275, -.251, -.261, -.195, -.237, -.146, -.16, -.098, -.003]
e_ren_r = [0, 484, 522, 1379, 1391, 2074, 2099, 3776, 3813, 3962, 3999, 5365, 5403, 6347, 6396, 6843, 7042, 9240, 9427, 10110, 10172, 11252, 11290, 12880, 12905, 15736, 15786, 15885, 15922, 16072, 16109, 16233, 16270]
e_ren_s = [0, -.035, .059, .003, .068, .023, .073, -.031, 0, -.014, .016, -.07, -.051, -.112, -.101, -.132, -.126, -.258, -.248, -.289, -.275, -.349, -.324, -.427, -.387, -.566, -.474, -.484, -.383, -.397, -.279, -.289, -.003]

rug_e_il = [199, 633, 857, 1702, 2323, 2869, 2968, 3316, 3502, 3714, 3863, 4248, 4608, 4707, 4856, 5018, 5142, 5949, 6446, 7626, 7750, 7874, 7998, 8123, 8396, 9055, 9241, 9428, 9552, 9675, 10234, 10917, 11041, 11376, 11662, 11786, 12097, 12221, 12880, 13029, 13463, 13588, 13898, 14022, 14209, 14333, 14557, 15140, 15264, 15413, 15698, 15823, 15947, 16009, 16196, 16258]
rug_e_leg = [609, 2422, 2720, 2943, 4335, 4645, 5204, 5303, 6632, 6968, 7129, 7377, 7502, 7812, 7936, 8123, 8557, 9675, 10917, 11041, 11227, 11414, 11724, 12159, 12718, 13178, 13339, 13525, 13712, 13960, 14171, 14333, 14519, 14705, 14829, 15015, 15289, 15922, 16233]
rug_e_ast = [2844, 2943, 3043, 5080, 5477, 6819, 7191, 7787, 9116, 9923, 10172, 10296, 10482, 11166, 11315, 12035, 12159, 13401, 13650, 15202, 15413, 15699, 15985, 16258]
rug_e_ren = [509, 1379, 2099, 3776, 3974, 5390, 6359, 6881, 7042, 7440, 7812, 7998, 9278, 9365, 9551, 10122, 11252, 12880, 15736, 15885, 16072, 16258]
rug_e_gpi = [2881, 4024, 4682, 5676, 6968, 7117, 8967, 9650, 10246, 12134, 12246, 12805, 13091, 13476, 13749, 13836, 14333, 14420, 15637, 15786, 16021, 16134, 16233]

# ranked list metric, the same curve sits under D and E
metric_r = [0, 50, 100, 200, 400, 700, 1000, 1500, 2000, 3000, 4000, 5000, 6000, 7000, 8000, 8500, 9000, 10000, 11000, 12000, 13000, 14000, 15000, 15500, 16000, 16100, 16200, 16250, 16280]
metric_v = [2.0, 1.7, 1.45, 1.25, 1.0, .85, .73, .6, .5, .38, .28, .2, .13, .07, .02, 0, -.03, -.1, -.18, -.27, -.36, -.48, -.68, -.84, -1.05, -1.2, -1.45, -1.9, -2.8]


fig = plt.figure(figsize=(W / 100, H / 100), dpi=100)


def px_ax(l, t, r, b):
    return fig.add_axes([l / W, 1 - b / H, (r - l) / W, (b - t) / H])


def fx(x):
    return x / W


def fy(y):
    return 1 - y / H


def box_panel(box, xlim, ylim, yticks, q1, med, q3, whi, wlo, cols, w, prefix):
    ax = px_ax(*box)
    pos = np.arange(1, len(q3) + 1)
    stats = [dict(med=m, q1=a, q3=b, whislo=lo, whishi=hi) for m, a, b, lo, hi in zip(med, q1, q3, wlo, whi)]
    res = ax.bxp(stats, positions=pos, widths=w, patch_artist=True, showfliers=False,
                 boxprops=dict(edgecolor='#A0A0A0', linewidth=.6),
                 medianprops=dict(color='#333333', linewidth=1.3),
                 whiskerprops=dict(color='#9A9A9A', linewidth=.7, linestyle=':'),
                 capprops=dict(color='#9A9A9A', linewidth=.5))
    for p, c in zip(res['boxes'], cols):
        p.set_facecolor(c)
    ax.set_xlim(*xlim)
    ax.set_ylim(*ylim)
    ax.set_yticks(yticks)
    ax.set_yticklabels([str(v) for v in yticks], fontsize=2.5, color='#666666')
    ax.tick_params(axis='y', length=2, width=.4, color='#999999', pad=1)
    ax.set_xticks(pos)
    ax.set_xticklabels([prefix + str(100 + i) for i in pos], rotation=90, fontsize=2.9, color='#707070')
    ax.tick_params(axis='x', length=1, width=.3, color='#999999', pad=4)
    for s in ax.spines.values():
        s.set_color('#A8A8A8')
        s.set_linewidth(1.3)
    return ax, pos


# A1
ax, pos = box_panel((99, 14, 553, 112), (-1.01, 41.05), (4.7, 202.5), [50, 100, 150, 200],
                    a1_q1, a1_med, a1_q3, a1_whi, [25] * 39, pool, .8, 'GSM1019')
ax.vlines(pos, a1_whi, a1_top, color='#333333', lw=1.9)
ax.vlines(pos, np.array(a1_low) - 1, np.array(a1_low) + 1, color='#A0A0A0', lw=2.2)

# A2
n2 = len(a2_q3)
a2_zero = [0] * n2
a2_colors = [pool[(i * 7 + 19) % len(pool)] for i in range(n2)]
ax, pos = box_panel((99, 165, 576, 286), (-3.2, 89.05), (-36, 259), [0, 50, 100, 150, 200, 250],
                    a2_zero, [2] * n2, a2_q3, a2_fbot, [-9] * n2, a2_colors, .85, 'GSM9')
ax.vlines(pos, a2_fbot, a2_ftop, color='#4A4A4A', lw=1.9)
ax.vlines(pos, -21, -12, color='#9A9A9A', lw=1.0)

# A3
ax, pos = box_panel((99, 345, 553, 443), (-.52, 27.54), (-6.7, 128), [0, 20, 40, 60, 80, 100, 120],
                    a3_q1, a3_med, a3_q3, a3_fbot, a3_ltop, a3_cols, .83, 'GSM5')
ax.vlines(pos, a3_fbot, a3_ftop, color='#333333', lw=2.4)
ax.vlines(pos, 0, a3_ltop, color='#333333', lw=2.8)

# A4
n4 = len(a4_cols)
a4_q1 = [20] * n4
a4_med = [33.5] * n4
a4_q3 = [50] * n4
a4_fbot = [97, 97, 97, 98, 97, 97, 97, 97, 98, 97, 97, 98, 97, 97, 97, 97, 97, 97, 97, 98, 97, 97, 97, 97, 97, 97, 97, 97]
a4_ftop = [122.5, 122.5, 122, 122, 122, 122.5, 122, 122, 122, 122, 122, 122, 122, 122, 122, 122, 122, 122, 122, 122, 122, 122, 122, 122, 122, 122, 122, 122.5]
ax, pos = box_panel((99, 521, 553, 619), (-.63, 29.58), (-1.6, 127.6), [0, 20, 40, 60, 80, 100, 120],
                    a4_q1, a4_med, a4_q3, a4_fbot, [5] * n4, a4_cols, .85, 'GSM7')
ax.vlines(pos, a4_fbot, a4_ftop, color='#333333', lw=2.2)
ax.vlines(pos, 4, 4.8, color='#A0A0A0', lw=3)


# B volcano
def flatten(rows):
    xs, ys = [], []
    for y, row in rows:
        xs += row
        ys += [y] * len(row)
    return xs, ys


ax = px_ax(122, 684, 509, 1094)
ax.set_axisbelow(True)
ax.set_xlim(-3.1, 3.18)
ax.set_ylim(-.45, 9.75)
ax.set_xticks(range(-3, 4))
ax.set_xticks(np.arange(-2.5, 3, 1), minor=True)
ax.set_yticks([0, 2.5, 5, 7.5])
ax.set_yticklabels(['0.0', '2.5', '5.0', '7.5'])
ax.set_yticks([1.25, 3.75, 6.25, 8.75], minor=True)
ax.grid(True, which='major', color='#EBEBEB', lw=1)
ax.grid(True, which='minor', color='#F2F2F2', lw=.6)
ax.tick_params(which='minor', length=0)
ax.tick_params(which='major', length=3, width=.8, color='#555555', labelcolor='#555555', labelsize=8.5, pad=2)
for s in ax.spines.values():
    s.set_color('#8C8C8C')
    s.set_linewidth(1.3)
mk = 54
dx, dy = flatten(down_rows)
ax.scatter(dx + down_extra_x, dy + down_extra_y, s=mk, color='#EFC000', lw=0, zorder=3)
nx, ny = flatten(not_rows)
ax.scatter(nx + not_extra_x, ny + not_extra_y, s=mk, color='#868C8C', lw=0, zorder=3)
ux, uy = flatten(up_rows)
ax.scatter(ux + up_extra_x, uy + up_extra_y, s=mk, color='#0073C2', lw=0, zorder=3)
ax.axhline(1.3, color='#BEBEBE', lw=2, ls=(0, (6, 2, 1.5, 2)), zorder=4)
for v in (-1, 1):
    ax.axvline(v, color='#A8A8A8', lw=1.5, ls=(0, (6, 2, 1.5, 2)), zorder=4)
ax.set_xlabel('logFC', fontsize=8.7, color='#333333', labelpad=0)
ax.set_ylabel('\u2212log10(P.Value)', fontsize=8.7, color='#333333')
ax.yaxis.set_label_coords((101 - 122) / 387, .5)
fig.text(fx(525), fy(858), 'Significant', fontsize=8.7, color='#333333', va='center')
leg_ax = px_ax(525, 868, 590, 928)
leg_ax.axis('off')
leg_ax.set_xlim(525, 590)
leg_ax.set_ylim(928, 868)
for yy, lab, c in zip([879, 898, 917], ['Down', 'Not', 'Up'], ['#EFC000', '#868C8C', '#0073C2']):
    leg_ax.scatter([535], [yy], s=46, color=c, lw=0)
    leg_ax.text(550, yy, lab, fontsize=7, color='#333333', va='center')

# C heatmap
heat = np.hstack([np.array(heat_left), np.array(heat_right)])
jco = LinearSegmentedColormap.from_list('jco', ['#0073C2', '#FFFFFF', '#EFC000'])
ax = px_ax(874, 97, 1628, 1024)
mesh = ax.pcolormesh(heat, cmap=jco, vmin=-2.84, vmax=2.84, edgecolors='#A8A8A8', linewidth=.7)
ax.set_ylim(60, 0)
ax.set_xlim(0, 39)
ax.set_xticks([])
ax.set_yticks(np.arange(60) + .5)
ax.set_yticklabels(genes, fontsize=7.7, color='#3C3C3C')
ax.yaxis.tick_right()
ax.tick_params(axis='y', length=0, pad=4)
for s in ax.spines.values():
    s.set_visible(False)

ax = px_ax(874, 74, 1628, 92)
ax.pcolormesh([sample_type], cmap=ListedColormap(['#0073C2', '#EFC000']), edgecolors='#A0A0A0', linewidth=.6)
ax.set_xticks([])
ax.set_yticks([])
for s in ax.spines.values():
    s.set_visible(False)
fig.text(fx(1634), fy(83), 'Type', fontsize=12.2, fontweight='bold', va='center')

bio_cols = ['#FF78F5', '#FF8A80', '#7FB2FF', '#00D55F']
ax = px_ax(851, 97, 869.5, 1024)
ax.pcolormesh(np.array(biotype).reshape(-1, 1), cmap=ListedColormap(bio_cols), vmin=0, vmax=3, edgecolors='#A0A0A0', linewidth=.6)
ax.set_ylim(60, 0)
ax.set_xticks([])
ax.set_yticks([])
for s in ax.spines.values():
    s.set_visible(False)
fig.text(fx(859), fy(1030), 'Biotype', fontsize=12.2, fontweight='bold', rotation=270, ha='center', va='top')

ax = px_ax(755, 97, 850, 1024)
ax.axis('off')
ax.set_xlim(1, 0)
ax.set_ylim(60, 0)


def draw_tree(node):
    if not isinstance(node, tuple):
        return 0, node + .5
    h, a, b = node
    xa, ya = draw_tree(a)
    xb, yb = draw_tree(b)
    ax.plot([xa, h, h, xb], [ya, ya, yb, yb], color='#333333', lw=1.1, solid_joinstyle='miter')
    return h, (ya + yb) / 2


draw_tree(tree)

cax = px_ax(1705, 73, 1723, 343)
cb = fig.colorbar(mesh, cax=cax)
cb.outline.set_visible(False)
cb.set_ticks([-2, -1, 0, 1, 2])
cb.set_ticklabels(['\u22122', '\u22121', '0', '1', '2'])
cb.ax.tick_params(length=0, labelsize=12.6, pad=7, labelcolor='#222222')
cb.solids.set_edgecolor('face')

leg_ax = px_ax(1750, 60, 1907, 300)
leg_ax.axis('off')
leg_ax.set_xlim(1750, 1907)
leg_ax.set_ylim(300, 60)
leg_ax.text(1758, 80, 'Type', fontsize=12.4, fontweight='bold', va='center')
for i, (lab, c) in enumerate(zip(['Con', 'PAH'], ['#0073C2', '#EFC000'])):
    leg_ax.add_patch(Rectangle((1757.6, 92 + i * 26), 26.4, 26, fc=c, ec='#A0A0A0', lw=.8))
    leg_ax.text(1789, 106 + i * 26, lab, fontsize=12.8, color='#222222', va='center')
leg_ax.text(1758, 170, 'Biotype', fontsize=12.4, fontweight='bold', va='center')
for i, (lab, c) in enumerate(zip(['lncRNA', 'NA', 'protein_coding', 'snRNA'], bio_cols)):
    leg_ax.add_patch(Rectangle((1757.6, 182 + i * 26), 26.4, 26, fc=c, ec='#A0A0A0', lw=.8))
    leg_ax.text(1789, 196 + i * 26, lab, fontsize=12.8, color='#222222', va='center')


# D and E
def gsea(left, right, top_box, rug_box, low_box, xmax, ylim_top, label_x, yticks, ylabels, curves, rugs, rug_cols,
         names, cols, lg_key, lg_y):
    grid = np.arange(2000, 16001, 2000)
    lab_pos = (label_x - left) / (right - left)
    a = px_ax(left, top_box[0], right, top_box[1])
    for r, s, c in curves:
        a.plot(r, s, color=c, lw=1.7, solid_joinstyle='miter')
    a.set_xlim(0, xmax)
    a.set_ylim(*ylim_top)
    a.set_xticks([])
    a.vlines(grid, *ylim_top, color='#EBEBEB', lw=1.1, zorder=0)
    a.set_yticks(yticks)
    a.set_yticklabels(ylabels)
    a.tick_params(axis='y', length=2.5, width=.8, labelsize=8.6, labelcolor='#5A5A5A', color='#333333', pad=2)
    a.set_ylabel('Running Enrichment Score', fontsize=10.1, color='#333333')
    a.yaxis.set_label_coords(lab_pos, .5)
    for s in ('top', 'right', 'bottom'):
        a.spines[s].set_visible(False)
    a.spines['left'].set_linewidth(1.2)

    b = px_ax(left, rug_box[0], right, rug_box[1])
    for i, (row, c) in enumerate(zip(rugs, rug_cols)):
        b.vlines(row, i, i + 1, color=c, lw=1.1)
    b.set_xlim(0, xmax)
    b.set_ylim(5, 0)
    b.set_xticks([])
    b.set_yticks([])
    for s in ('top', 'right', 'bottom'):
        b.spines[s].set_visible(False)
    b.spines['left'].set_linewidth(1.2)

    c = px_ax(left, low_box[0], right, low_box[1])
    c.fill_between(metric_r, metric_v, 0, color='#BEBEBE', lw=0, zorder=2)
    c.vlines(grid, *low_box[2], color='#EBEBEB', lw=1.1, zorder=1)
    c.set_xlim(0, xmax)
    c.set_ylim(*low_box[2])
    c.set_xticks([4000, 8000, 12000, 16000])
    c.set_yticks([-3, -2, -1, 0, 1, 2, 3])
    c.set_yticklabels(['-3', '-2', '-1', '0', '1', '2', '3'])
    c.tick_params(axis='x', length=0, labelsize=8.8, labelcolor='#5A5A5A', pad=4)
    c.tick_params(axis='y', length=2.5, width=.8, labelsize=8.6, labelcolor='#5A5A5A', color='#333333', pad=2)
    c.set_xlabel('Rank in Ordered Dataset', fontsize=10.3, color='#333333', labelpad=3)
    c.set_ylabel('Ranked List Metric', fontsize=10.1, color='#333333')
    c.yaxis.set_label_coords(lab_pos, .5)
    for s in ('top', 'right'):
        c.spines[s].set_visible(False)
    c.spines['left'].set_linewidth(1.2)
    c.spines['bottom'].set_linewidth(1.6)
    c.spines['bottom'].set_color('#555555')

    for name, col, yy in zip(names, cols, lg_y):
        fig.add_artist(Line2D([fx(lg_key), fx(lg_key + 18)], [fy(yy), fy(yy)], color=col, lw=2))
        fig.text(fx(lg_key + 26), fy(yy), name, fontsize=8.33, color='#333333', va='center')


gsea(86.2, 762, (1191, 1527), (1532, 1644), (1648, 1872, (-3.08, 3.17)), 16280, (-.11, .575), 61,
     [0, .2, .4], ['0.0', '0.2', '0.4'],
     [(d_basal_r, d_basal_s, d_cols[0]), (d_mat_r, d_mat_s, d_cols[1]), (d_met_r, d_met_s, d_cols[2]),
      (d_nic_r, d_nic_s, d_cols[3]), (d_pla_r, d_pla_s, d_cols[4])],
     [rug_d_mat, rug_d_nic, rug_d_bas, rug_d_met, rug_d_pla], [d_cols[1], d_cols[3], d_cols[0], d_cols[2], d_cols[4]],
     d_names, d_cols, 494, [1218, 1241, 1263, 1285, 1308])

gsea(961.7, 1631, (1212, 1549), (1553, 1665), (1668, 1893, (-3.11, 3.2)), 16290, (-.60, .105), 928.5,
     [-.4, -.2, 0], ['-0.4', '-0.2', '0.0'],
     [(e_ast_r, e_ast_s, e_cols[0]), (e_gpi_r, e_gpi_s, e_cols[1]), (e_il_r, e_il_s, e_cols[2]),
      (e_leg_r, e_leg_s, e_cols[3]), (e_ren_r, e_ren_s, e_cols[4])],
     [rug_e_il, rug_e_leg, rug_e_ast, rug_e_ren, rug_e_gpi], [e_cols[2], e_cols[3], e_cols[0], e_cols[4], e_cols[1]],
     e_names, e_cols, 1341, [1239, 1262, 1284, 1306, 1329])

# panel letters
for lab, x, y in [('A', 14, 22), ('B', 16, 711), ('C', 736, 55), ('D', 14, 1154), ('E', 910, 1154)]:
    fig.text(fx(x), fy(y), lab, fontsize=28, family='Liberation Serif', ha='center', va='center')

fig.savefig('out.png', dpi=100)
